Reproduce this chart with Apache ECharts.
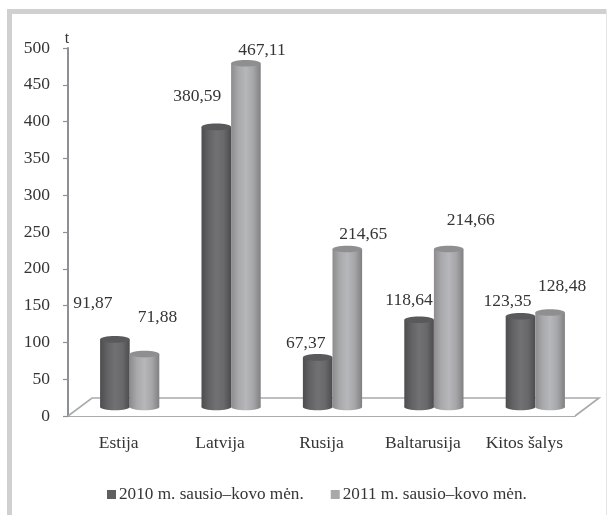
<!DOCTYPE html>
<html>
<head>
<meta charset="utf-8">
<style>html,body{margin:0;padding:0;background:#fff}#c{width:607px;height:515px;filter:blur(0.45px)}</style>
<script src="https://cdn.jsdelivr.net/npm/echarts@6/dist/echarts.min.js"></script>
</head>
<body>
<div id="c"></div>
<script>
const categories = ['Estija', 'Latvija', 'Rusija', 'Baltarusija', 'Kitos šalys'];
const seriesNames = ['2010 m. sausio–kovo mėn.', '2011 m. sausio–kovo mėn.'];
const values2010 = [91.87, 380.59, 67.37, 118.64, 123.35];
const values2011 = [71.88, 467.11, 214.65, 214.66, 128.48];
const labels2010 = ['91,87', '380,59', '67,37', '118,64', '123,35'];
const labels2011 = ['71,88', '467,11', '214,65', '214,66', '128,48'];

// label offset from the top centre of each cylinder
const labelShift2010 = [[-22, -36], [-19, -30], [-12, -14], [-10, -19], [-13, -15]];
const labelShift2011 = [[13, -37], [16, -13], [16, -15], [22, -29], [12, -26]];

const font = '"Liberation Serif", serif';
const textColor = '#353535';
const lift = 9, shiftX = 11, depthX = 24, depthY = 18, ry = 3.3;

function grad(stops) {
  return new echarts.graphic.LinearGradient(0, 0, 1, 0,
    stops.map((c, i) => ({ offset: i / (stops.length - 1), color: c })));
}
const bodies = [
  ['#4d4d4f', '#636365', '#717173', '#69696b', '#4c4c4e'],
  ['#8c8c8e', '#a9a9ac', '#b6b7ba', '#a6a6a9', '#808082']
];
const caps = ['#59595b', '#8f8f91'];

function cylinder(which, vals, labels, shifts) {
  return {
    type: 'custom',
    name: seriesNames[which],
    itemStyle: { color: which === 0 ? '#5f5f61' : '#a9a9ac' },
    z: 3,
    clip: false,
    data: vals.map((v, i) => [i, v]),
    encode: { x: 0, y: 1 },
    renderItem(params, api) {
      const i = api.value(0), v = api.value(1);
      const band = api.size([1, 0])[0];
      const w = band * 0.292;
      const top = api.coord([i, v]);
      const base = api.coord([i, 0]);
      const cx = top[0] + shiftX + (which === 0 ? -w / 2 : w / 2);
      const yTop = top[1] - lift, yBase = base[1] - lift;
      const s = shifts[i];
      return {
        type: 'group',
        children: [
          { type: 'ellipse', shape: { cx, cy: yBase, rx: w / 2, ry }, style: { fill: grad(bodies[which]) } },
          { type: 'rect', shape: { x: cx - w / 2, y: yTop, width: w, height: yBase - yTop }, style: { fill: grad(bodies[which]) } },
          { type: 'ellipse', shape: { cx, cy: yTop, rx: w / 2, ry }, style: { fill: caps[which] } },
          { type: 'text', style: { text: labels[i], x: cx + s[0], y: yTop + s[1], align: 'center', verticalAlign: 'middle', font: '17.5px ' + font, fill: textColor } }
        ]
      };
    }
  };
}

const floor = {
  type: 'custom',
  z: 1,
  silent: true,
  clip: false,
  data: [[0, 0]],
  encode: { x: 0, y: 1 },
  renderItem(params, api) {
    const g = params.coordSys;
    const y0 = g.y + g.height, x0 = g.x, x1 = g.x + g.width;
    return {
      type: 'polyline',
      shape: { points: [[x0, y0], [x0 + depthX, y0 - depthY], [x1 + depthX, y0 - depthY], [x1, y0]] },
      style: { stroke: '#a9aaac', lineWidth: 1.6, fill: '#ffffff' }
    };
  }
};

const chart = echarts.init(document.getElementById('c'), null, { renderer: 'canvas' });
chart.setOption({
  animation: false,
  backgroundColor: '#fff',
  graphic: [
    { type: 'rect', shape: { x: 7, y: 9, width: 600, height: 5 }, style: { fill: '#d0d0d0' } },
    { type: 'rect', shape: { x: 7, y: 9, width: 5, height: 506 }, style: { fill: '#d0d0d0' } },
    { type: 'rect', shape: { x: 606, y: 9, width: 1, height: 506 }, style: { fill: '#e4e4e4' } }
  ],
  grid: { left: 68, right: 32, top: 48, bottom: 99 },
  legend: {
    data: seriesNames,
    left: 102,
    top: 481,
    icon: 'rect',
    itemWidth: 9,
    itemHeight: 9,
    itemGap: 27,
    textStyle: { fontFamily: font, fontSize: 17.2, color: textColor, padding: [0, 0, 0, -2] }
  },
  xAxis: {
    type: 'category',
    data: categories,
    axisLine: { lineStyle: { color: '#8d9094', width: 1.6 } },
    axisTick: { length: 6, alignWithLabel: false, lineStyle: { color: '#8d9094', width: 1.2 } },
    axisLabel: { fontFamily: font, fontSize: 17.5, color: textColor, margin: 18 }
  },
  yAxis: {
    type: 'value',
    min: 0,
    max: 500,
    interval: 50,
    name: 't',
    nameLocation: 'end',
    nameGap: 1,
    nameTextStyle: { fontFamily: font, fontSize: 16, color: textColor, align: 'center', padding: [0, 0, 0, -2] },
    splitLine: { show: false },
    axisLine: { show: true, lineStyle: { color: '#8d9094', width: 2 } },
    axisTick: { show: true, length: 5, lineStyle: { color: '#8d9094', width: 1.2 } },
    axisLabel: { fontFamily: font, fontSize: 17.5, color: textColor, margin: 18 }
  },
  series: [
    floor,
    cylinder(0, values2010, labels2010, labelShift2010),
    cylinder(1, values2011, labels2011, labelShift2011)
  ]
});
</script>
</body>
</html>
